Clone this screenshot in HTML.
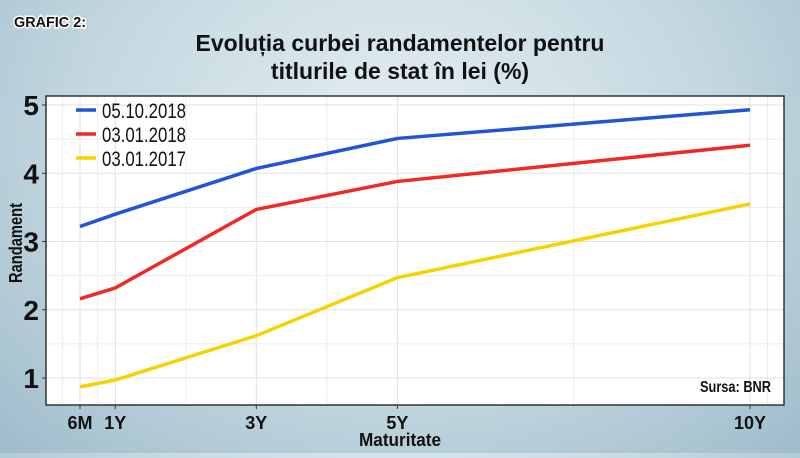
<!DOCTYPE html>
<html><head><meta charset="utf-8"><style>
html,body{margin:0;padding:0}
body{width:800px;height:453px;overflow:hidden;background:radial-gradient(ellipse at 50% 30%,#e4eef2 0%,#c4d8e0 55%,#9fbccb 100%);font-family:"Liberation Sans Narrow","Liberation Sans",sans-serif}
svg text{font-family:"Liberation Sans Narrow","Liberation Sans",sans-serif}
</style></head><body>
<svg width="800" height="453">
<text x="14" y="27" font-size="15" font-weight="bold" fill="#111" stroke="#fff" stroke-width="3" paint-order="stroke" textLength="72" lengthAdjust="spacingAndGlyphs">GRAFIC 2:</text>
<text x="400" y="51" text-anchor="middle" font-size="23" font-weight="bold" fill="#111">Evoluția curbei randamentelor pentru</text>
<text x="400" y="79" text-anchor="middle" font-size="23" font-weight="bold" fill="#111">titlurile de stat în lei (%)</text>
<rect x="46" y="96" width="738" height="309" fill="#fff" stroke="#333" stroke-width="1.5"/>
<g id="grid"></g><g id="lines"></g><g id="axes"></g>
<line x1="76" y1="110" x2="96" y2="110" stroke="#1f55d6" stroke-width="3.5"/>
<text x="102" y="118" font-size="21" fill="#111" textLength="84" lengthAdjust="spacingAndGlyphs">05.10.2018</text>
<line x1="76" y1="134" x2="96" y2="134" stroke="#ee2a24" stroke-width="3.5"/>
<text x="102" y="142" font-size="21" fill="#111" textLength="84" lengthAdjust="spacingAndGlyphs">03.01.2018</text>
<line x1="76" y1="158" x2="96" y2="158" stroke="#f5d200" stroke-width="3.5"/>
<text x="102" y="166" font-size="21" fill="#111" textLength="84" lengthAdjust="spacingAndGlyphs">03.01.2017</text>
<text x="700" y="392" font-size="16" font-weight="bold" fill="#111" textLength="71" lengthAdjust="spacingAndGlyphs">Sursa: BNR</text>
<text x="359" y="446" font-size="18" font-weight="bold" fill="#111" textLength="82" lengthAdjust="spacingAndGlyphs">Maturitate</text>
<text transform="translate(22,243) rotate(-90)" x="-40" font-size="18" font-weight="bold" fill="#111" textLength="80" lengthAdjust="spacingAndGlyphs">Randament</text>
</svg>
<script>
const maturities=[0.5,1,3,5,10];
const tickLabels=["6M","1Y","3Y","5Y","10Y"];
const yTicks=[1,2,3,4,5];
const series2018Oct=[3.22,3.40,4.07,4.51,4.93];
const series2018Jan=[2.16,2.32,3.47,3.88,4.41];
const series2017Jan=[0.87,0.97,1.62,2.47,3.55];
const minorX=[0.25,0.75,2,4,7.5,10.25];
const minorY=[1.5,2.5,3.5,4.5];
const NS="http://www.w3.org/2000/svg";
function xs(t){return 80+(t-0.5)*(670/9.5);}
function ys(v){return 378-(v-1)*68.25;}
function mk(tag,attrs,parent){const e=document.createElementNS(NS,tag);for(const k in attrs)e.setAttribute(k,attrs[k]);parent.appendChild(e);return e;}
const grid=document.getElementById('grid'),lines=document.getElementById('lines'),axes=document.getElementById('axes');
minorX.forEach(t=>{const l=mk('line',{x1:xs(t),x2:xs(t),y1:97,y2:404,stroke:'#ececec','stroke-width':1},grid);

});
maturities.forEach(t=>{const l=mk('line',{x1:xs(t),x2:xs(t),y1:97,y2:404,stroke:'#e0e0e0','stroke-width':1},grid);

});
minorY.forEach(v=>{const l=mk('line',{x1:47,x2:783,y1:ys(v),y2:ys(v),stroke:'#ececec','stroke-width':1},grid);

});
yTicks.forEach(v=>{const l=mk('line',{x1:47,x2:783,y1:ys(v),y2:ys(v),stroke:'#e0e0e0','stroke-width':1},grid);


const tk=mk('line',{x1:42,x2:46,y1:ys(v),y2:ys(v),stroke:'#333','stroke-width':1},axes);


const tx=mk('text',{x:39,y:ys(v)+10,'text-anchor':'end','font-size':28,'font-weight':'bold',fill:'#111'},axes);
tx.textContent=v;

});
maturities.forEach((t,i)=>{const tk=mk('line',{x1:xs(t),x2:xs(t),y1:405,y2:409,stroke:'#333','stroke-width':1},axes);


const tx=mk('text',{x:xs(t),y:429,'text-anchor':'middle','font-size':18,'font-weight':'bold',fill:'#111'},axes);
tx.textContent=tickLabels[i];

});
[[series2017Jan,'#f5d200','line-2017-01'],[series2018Jan,'#ee2a24','line-2018-01'],[series2018Oct,'#1f55d6','line-2018-10']].forEach(([s,c,n])=>{
const p=mk('polyline',{points:s.map((v,i)=>xs(maturities[i])+','+ys(v)).join(' '),fill:'none',stroke:c,'stroke-width':3.5,'stroke-linejoin':'round'},lines);

});
</script>
</body></html>
